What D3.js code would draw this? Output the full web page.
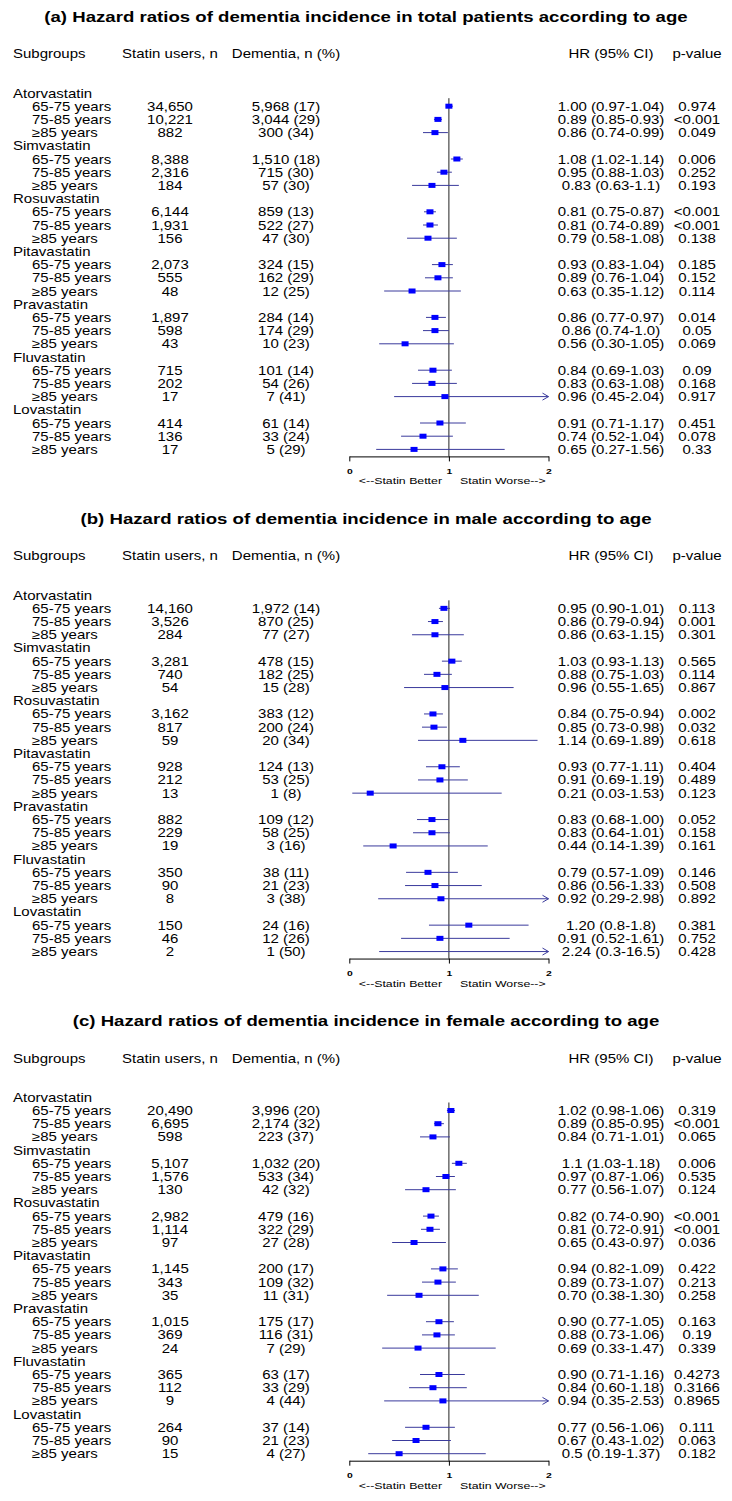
<!DOCTYPE html>
<html><head><meta charset="utf-8">
<script src="https://cdn.jsdelivr.net/npm/d3@7"></script>
<style>
body{margin:0;background:#fff}
svg{display:block}
text{font-family:"Liberation Sans",Arial,Helvetica,sans-serif;fill:#000}
</style>
</head><body>
<svg id="chart" width="732" height="1501"></svg>
<script>
const drugs = ["Atorvastatin","Simvastatin","Rosuvastatin","Pitavastatin","Pravastatin","Fluvastatin","Lovastatin"];
const ageGroups = ["65-75 years","75-85 years","≥85 years"];
const panelTitles = [
  "(a) Hazard ratios of dementia incidence in total patients according to age",
  "(b) Hazard ratios of dementia incidence in male according to age",
  "(c) Hazard ratios of dementia incidence in female according to age"
];
const headers = ["Subgroups","Statin users, n","Dementia, n (%)","HR (95% CI)","p-value"];
const axisTicks = [0,1,2];
const axisNotes = ["<--Statin Better","Statin Worse-->"];

// (a) total patients
const usersTotal = ["34,650","10,221","882","8,388","2,316","184","6,144","1,931","156","2,073","555","48","1,897","598","43","715","202","17","414","136","17"];
const dementiaTotal = ["5,968 (17)","3,044 (29)","300 (34)","1,510 (18)","715 (30)","57 (30)","859 (13)","522 (27)","47 (30)","324 (15)","162 (29)","12 (25)","284 (14)","174 (29)","10 (23)","101 (14)","54 (26)","7 (41)","61 (14)","33 (24)","5 (29)"];
const hrTextTotal = ["1.00 (0.97-1.04)","0.89 (0.85-0.93)","0.86 (0.74-0.99)","1.08 (1.02-1.14)","0.95 (0.88-1.03)","0.83 (0.63-1.1)","0.81 (0.75-0.87)","0.81 (0.74-0.89)","0.79 (0.58-1.08)","0.93 (0.83-1.04)","0.89 (0.76-1.04)","0.63 (0.35-1.12)","0.86 (0.77-0.97)","0.86 (0.74-1.0)","0.56 (0.30-1.05)","0.84 (0.69-1.03)","0.83 (0.63-1.08)","0.96 (0.45-2.04)","0.91 (0.71-1.17)","0.74 (0.52-1.04)","0.65 (0.27-1.56)"];
const hrTotal = [1.00,0.89,0.86,1.08,0.95,0.83,0.81,0.81,0.79,0.93,0.89,0.63,0.86,0.86,0.56,0.84,0.83,0.96,0.91,0.74,0.65];
const loTotal = [0.97,0.85,0.74,1.02,0.88,0.63,0.75,0.74,0.58,0.83,0.76,0.35,0.77,0.74,0.30,0.69,0.63,0.45,0.71,0.52,0.27];
const hiTotal = [1.04,0.93,0.99,1.14,1.03,1.1,0.87,0.89,1.08,1.04,1.04,1.12,0.97,1.0,1.05,1.03,1.08,2.04,1.17,1.04,1.56];
const pTotal = ["0.974","<0.001","0.049","0.006","0.252","0.193","<0.001","<0.001","0.138","0.185","0.152","0.114","0.014","0.05","0.069","0.09","0.168","0.917","0.451","0.078","0.33"];

// (b) male
const usersMale = ["14,160","3,526","284","3,281","740","54","3,162","817","59","928","212","13","882","229","19","350","90","8","150","46","2"];
const dementiaMale = ["1,972 (14)","870 (25)","77 (27)","478 (15)","182 (25)","15 (28)","383 (12)","200 (24)","20 (34)","124 (13)","53 (25)","1 (8)","109 (12)","58 (25)","3 (16)","38 (11)","21 (23)","3 (38)","24 (16)","12 (26)","1 (50)"];
const hrTextMale = ["0.95 (0.90-1.01)","0.86 (0.79-0.94)","0.86 (0.63-1.15)","1.03 (0.93-1.13)","0.88 (0.75-1.03)","0.96 (0.55-1.65)","0.84 (0.75-0.94)","0.85 (0.73-0.98)","1.14 (0.69-1.89)","0.93 (0.77-1.11)","0.91 (0.69-1.19)","0.21 (0.03-1.53)","0.83 (0.68-1.00)","0.83 (0.64-1.01)","0.44 (0.14-1.39)","0.79 (0.57-1.09)","0.86 (0.56-1.33)","0.92 (0.29-2.98)","1.20 (0.8-1.8)","0.91 (0.52-1.61)","2.24 (0.3-16.5)"];
const hrMale = [0.95,0.86,0.86,1.03,0.88,0.96,0.84,0.85,1.14,0.93,0.91,0.21,0.83,0.83,0.44,0.79,0.86,0.92,1.20,0.91,2.24];
const loMale = [0.90,0.79,0.63,0.93,0.75,0.55,0.75,0.73,0.69,0.77,0.69,0.03,0.68,0.64,0.14,0.57,0.56,0.29,0.8,0.52,0.3];
const hiMale = [1.01,0.94,1.15,1.13,1.03,1.65,0.94,0.98,1.89,1.11,1.19,1.53,1.00,1.01,1.39,1.09,1.33,2.98,1.8,1.61,16.5];
const pMale = ["0.113","0.001","0.301","0.565","0.114","0.867","0.002","0.032","0.618","0.404","0.489","0.123","0.052","0.158","0.161","0.146","0.508","0.892","0.381","0.752","0.428"];

// (c) female
const usersFemale = ["20,490","6,695","598","5,107","1,576","130","2,982","1,114","97","1,145","343","35","1,015","369","24","365","112","9","264","90","15"];
const dementiaFemale = ["3,996 (20)","2,174 (32)","223 (37)","1,032 (20)","533 (34)","42 (32)","479 (16)","322 (29)","27 (28)","200 (17)","109 (32)","11 (31)","175 (17)","116 (31)","7 (29)","63 (17)","33 (29)","4 (44)","37 (14)","21 (23)","4 (27)"];
const hrTextFemale = ["1.02 (0.98-1.06)","0.89 (0.85-0.95)","0.84 (0.71-1.01)","1.1 (1.03-1.18)","0.97 (0.87-1.06)","0.77 (0.56-1.07)","0.82 (0.74-0.90)","0.81 (0.72-0.91)","0.65 (0.43-0.97)","0.94 (0.82-1.09)","0.89 (0.73-1.07)","0.70 (0.38-1.30)","0.90 (0.77-1.05)","0.88 (0.73-1.06)","0.69 (0.33-1.47)","0.90 (0.71-1.16)","0.84 (0.60-1.18)","0.94 (0.35-2.53)","0.77 (0.56-1.06)","0.67 (0.43-1.02)","0.5 (0.19-1.37)"];
const hrFemale = [1.02,0.89,0.84,1.1,0.97,0.77,0.82,0.81,0.65,0.94,0.89,0.70,0.90,0.88,0.69,0.90,0.84,0.94,0.77,0.67,0.5];
const loFemale = [0.98,0.85,0.71,1.03,0.87,0.56,0.74,0.72,0.43,0.82,0.73,0.38,0.77,0.73,0.33,0.71,0.60,0.35,0.56,0.43,0.19];
const hiFemale = [1.06,0.95,1.01,1.18,1.06,1.07,0.90,0.91,0.97,1.09,1.07,1.30,1.05,1.06,1.47,1.16,1.18,2.53,1.06,1.02,1.37];
const pFemale = ["0.319","<0.001","0.065","0.006","0.535","0.124","<0.001","<0.001","0.036","0.422","0.213","0.258","0.163","0.19","0.339","0.4273","0.3166","0.8965","0.111","0.063","0.182"];

const panels = [
  {title: panelTitles[0], users: usersTotal, dem: dementiaTotal, hrText: hrTextTotal, hr: hrTotal, lo: loTotal, hi: hiTotal, p: pTotal},
  {title: panelTitles[1], users: usersMale, dem: dementiaMale, hrText: hrTextMale, hr: hrMale, lo: loMale, hi: hiMale, p: pMale},
  {title: panelTitles[2], users: usersFemale, dem: dementiaFemale, hrText: hrTextFemale, hr: hrFemale, lo: loFemale, hi: hiFemale, p: pFemale}
];

const svg = d3.select("#chart");
const FS = 12.5, SX = 1.2, BL = 4.5;
const ROW = 13.2, NROWS = drugs.length * 4;
const boxColor = "#0000ff", ciColor = "#3a3a9c";

function label(g, x, y, s, anchor, fs, sx, weight) {
  g.append("text")
    .attr("transform", `translate(${x},${y}) scale(${sx},1)`)
    .attr("text-anchor", anchor)
    .style("font-size", fs + "px")
    .style("font-weight", weight || "normal")
    .text(s);
}

const x = d3.scaleLinear().domain([0, 2]).range([349.3, 548.5]);
const colX = {sub: 13, age: 32, users: 170, dem: 286, hr: 611, p: 697};

panels.forEach((P, pi) => {
  const base = 93 + 502.15 * pi;
  const y = d3.scaleLinear().domain([0, NROWS - 1]).range([base, base + (NROWS - 1) * ROW]);
  const g = svg.append("g");

  // title
  label(g, 366, base - 71, P.title, "middle", 14, 1.33, "bold");

  // headers
  const hy = base - 39.3 + BL;
  label(g, colX.sub, hy, headers[0], "start", FS, SX);
  label(g, colX.users, hy, headers[1], "middle", FS, SX);
  label(g, colX.dem, hy, headers[2], "middle", FS, SX);
  label(g, colX.hr, hy, headers[3], "middle", FS, SX);
  label(g, colX.p, hy, headers[4], "middle", FS, SX);

  const axisY = y(NROWS - 1) + 7;

  // reference line at HR = 1
  g.append("line")
    .attr("x1", x(1)).attr("x2", x(1))
    .attr("y1", y(1) - 8).attr("y2", axisY)
    .attr("stroke", "#222").attr("stroke-width", 1);

  drugs.forEach((d, di) => {
    label(g, colX.sub, y(di * 4) + BL, d, "start", FS, SX);
    ageGroups.forEach((a, ai) => {
      const k = di * 3 + ai;
      const r = di * 4 + 1 + ai;
      const yy = y(r);
      label(g, colX.age, yy + BL, a, "start", FS, SX);
      label(g, colX.users, yy + BL, P.users[k], "middle", FS, SX);
      label(g, colX.dem, yy + BL, P.dem[k], "middle", FS, SX);
      label(g, colX.hr, yy + BL, P.hrText[k], "middle", FS, SX);
      label(g, colX.p, yy + BL, P.p[k], "middle", FS, SX);

      // CI line
      const lo = Math.max(P.lo[k], 0), hi = Math.min(P.hi[k], 2);
      g.append("line")
        .attr("x1", x(lo)).attr("x2", x(hi))
        .attr("y1", yy).attr("y2", yy)
        .attr("stroke", ciColor).attr("stroke-width", 1);
      if (P.hi[k] > 2) {
        g.append("path")
          .attr("d", `M${x(2) - 6},${yy - 3.5}L${x(2)},${yy}L${x(2) - 6},${yy + 3.5}`)
          .attr("fill", "none").attr("stroke", ciColor).attr("stroke-width", 1);
      }
      if (P.hr[k] >= 0 && P.hr[k] <= 2) {
        g.append("rect")
          .attr("x", x(P.hr[k]) - 3.5).attr("y", yy - 2.5)
          .attr("width", 7).attr("height", 5)
          .attr("fill", boxColor);
      }
    });
  });

  // axis
  const ax = g.append("g").attr("transform", `translate(0,${axisY})`)
    .call(d3.axisBottom(x).tickValues(axisTicks).tickFormat(d3.format("d")).tickSize(5).tickSizeOuter(0).tickPadding(7));
  ax.select(".domain").attr("stroke", "#000");
  ax.selectAll(".tick line").attr("stroke", "#000");
  ax.selectAll(".tick text")
    .attr("transform", "scale(1.3,1)")
    .style("font-size", "8px").style("font-weight", "bold")
    .style("font-family", '"Liberation Sans",Arial,sans-serif')
    .attr("fill", "#000");

  label(g, 442, axisY + 28, axisNotes[0], "end", 8.5, 1.45);
  label(g, 460, axisY + 28, axisNotes[1], "start", 8.5, 1.45);
});
</script>
</body></html>
